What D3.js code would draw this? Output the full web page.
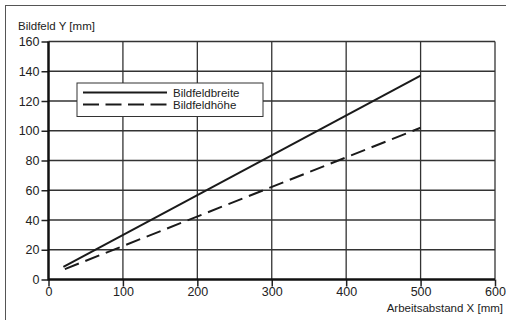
<!DOCTYPE html>
<html>
<head>
<meta charset="utf-8">
<script src="https://cdn.jsdelivr.net/npm/d3@7"></script>
<style>
  body { margin: 0; background: #fff; }
  text { font-family: "Liberation Sans", Arial, sans-serif; fill: #222; }
</style>
</head>
<body>
<svg id="chart"></svg>
<script>
// values
var xTicks = [0, 100, 200, 300, 400, 500, 600];
var yTicks = [0, 20, 40, 60, 80, 100, 120, 140, 160];
var breiteX = [20, 500];
var breiteY = [8.5, 137];
var hoeheX = [22, 500];
var hoeheY = [7, 102];
var seriesNames = ["Bildfeldbreite", "Bildfeldhöhe"];

var width = 506, height = 320;
var chart = d3.select("#chart").attr("width", width).attr("height", height);

var x = d3.scaleLinear().domain([0, 600]).range([48.5, 495]);
var y = d3.scaleLinear().domain([0, 160]).range([279.5, 41.5]);

// outer frame, right and bottom fall off the picture
chart.append("rect")
  .attr("x", 5.5).attr("y", 5.5)
  .attr("width", 520).attr("height", 330)
  .attr("fill", "none").attr("stroke", "#555").attr("stroke-width", 1);

// grid
chart.append("g").selectAll("line")
  .data(xTicks.filter(d => d > 0))
  .enter().append("line")
  .attr("x1", d => x(d)).attr("x2", d => x(d))
  .attr("y1", y(0)).attr("y2", y(160))
  .attr("stroke", "#333").attr("stroke-width", 1.3);

chart.append("g").selectAll("line")
  .data(yTicks.filter(d => d > 0))
  .enter().append("line")
  .attr("x1", x(0)).attr("x2", x(600))
  .attr("y1", d => y(d)).attr("y2", d => y(d))
  .attr("stroke", "#333").attr("stroke-width", 1.3);

// axes
var xAxis = d3.axisBottom(x).tickValues(xTicks).tickSize(7).tickPadding(1);
var yAxis = d3.axisLeft(y).tickValues(yTicks).tickSize(7).tickPadding(2);

var gx = chart.append("g").attr("transform", `translate(0,${y(0)})`).call(xAxis);
var gy = chart.append("g").attr("transform", `translate(${x(0)},0)`).call(yAxis);

[gx, gy].forEach(g => {
  g.select(".domain").remove();
  g.selectAll(".tick line").attr("stroke", "#222").attr("stroke-width", 1.5);
  g.selectAll(".tick text")
    .attr("fill", "#222")
    .style("font-family", '"Liberation Sans", Arial, sans-serif')
    .style("font-size", "12.5px");
});

chart.append("line")
  .attr("x1", x(0)).attr("x2", x(600)).attr("y1", y(0)).attr("y2", y(0))
  .attr("stroke", "#111").attr("stroke-width", 2.5);
chart.append("line")
  .attr("x1", x(0)).attr("x2", x(0)).attr("y1", y(0) + 1).attr("y2", y(160))
  .attr("stroke", "#111").attr("stroke-width", 2.5);

// series
var line = d3.line().x(d => x(d[0])).y(d => y(d[1]));
var breite = breiteX.map((v, i) => [v, breiteY[i]]);
var hoehe = hoeheX.map((v, i) => [v, hoeheY[i]]);

chart.append("path").datum(breite)
  .attr("d", line).attr("fill", "none")
  .attr("stroke", "#1a1a1a").attr("stroke-width", 2);
chart.append("path").datum(hoehe)
  .attr("d", line).attr("fill", "none")
  .attr("stroke", "#1a1a1a").attr("stroke-width", 2)
  .attr("stroke-dasharray", "15,7");

// axis titles
chart.append("text")
  .attr("x", 18).attr("y", 30)
  .style("font-size", "11.5px")
  .text("Bildfeld Y [mm]");
chart.append("text")
  .attr("x", 503).attr("y", 312)
  .attr("text-anchor", "end")
  .style("font-size", "11.5px")
  .text("Arbeitsabstand X [mm]");

// legend
var legend = chart.append("g");
legend.append("rect")
  .attr("x", 77).attr("y", 83).attr("width", 186).attr("height", 33.5)
  .attr("fill", "#fff").attr("stroke", "#333").attr("stroke-width", 1);
legend.selectAll("line.key")
  .data(seriesNames)
  .enter().append("line")
  .attr("x1", 83).attr("x2", 167)
  .attr("y1", (d, i) => 92.5 + i * 12).attr("y2", (d, i) => 92.5 + i * 12)
  .attr("stroke", "#1a1a1a").attr("stroke-width", 2)
  .attr("stroke-dasharray", (d, i) => i ? "16,6.5" : null);
legend.selectAll("text.key")
  .data(seriesNames)
  .enter().append("text")
  .attr("x", 173).attr("y", (d, i) => 96.5 + i * 12)
  .style("font-size", "11.5px")
  .text(d => d);
</script>
</body>
</html>
